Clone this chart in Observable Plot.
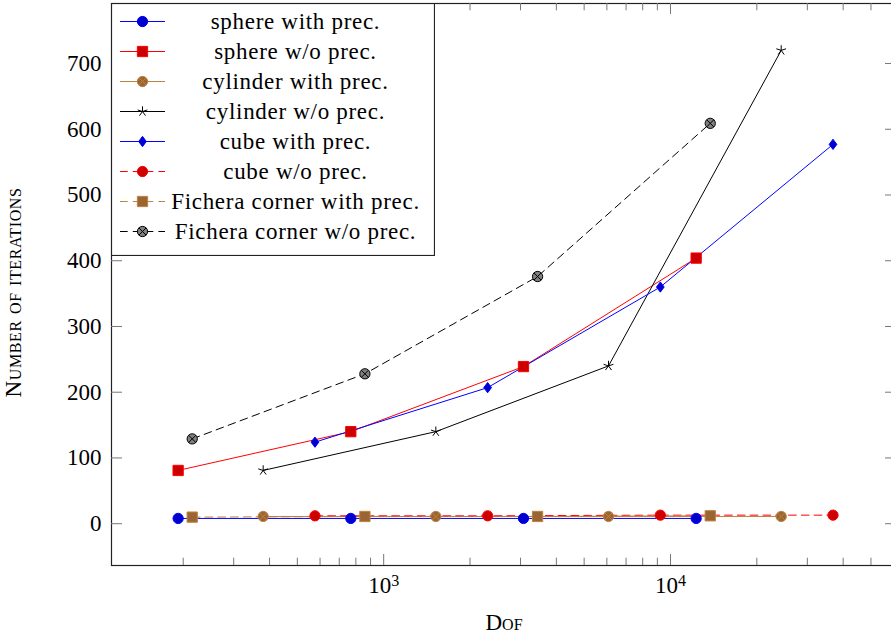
<!DOCTYPE html>
<html><head><meta charset="utf-8">
<script src="https://cdn.jsdelivr.net/npm/d3@7"></script>
<script src="https://cdn.jsdelivr.net/npm/@observablehq/plot@0.6"></script>
<style>
html,body{margin:0;padding:0;background:#fff;overflow:hidden}
#wrap{position:relative;width:891px;height:636px;overflow:hidden;background:#fff}
#chart svg{max-width:none !important}
#legend{position:absolute;left:111px;top:3px}
#legend svg{max-width:none !important;background:transparent !important}
#legend text{letter-spacing:0.7px}
.ylab text{letter-spacing:0.6px}
</style></head><body><div id="wrap"><div id="chart"></div><div id="legend"></div></div>
<script>
// ---- data ----
const seriesNames = ["sphere with prec.", "sphere w/o prec.", "cylinder with prec.", "cylinder w/o prec.",
  "cube with prec.", "cube w/o prec.", "Fichera corner with prec.", "Fichera corner w/o prec."];
const sphereDof = [192, 768, 3072, 12288];
const sphereWith = [8, 8, 8, 8];
const sphereWithout = [81, 140, 239, 404];
const cylinderDof = [380, 1520, 6080, 24320];
const cylinderWith = [11, 11, 11, 11];
const cylinderWithout = [81, 140, 240, 720];
const cubeDof = [576, 2304, 9216, 36864];
const cubeWith = [124, 207, 360, 577];
const cubeWithout = [12, 12, 13, 13];
const ficheraDof = [215, 860, 3440, 13760];
const ficheraWith = [10, 11, 11, 12];
const ficheraWithout = [129, 228, 376, 609];
const yTicks = [0, 100, 200, 300, 400, 500, 600, 700];
const xMajorTicks = [1000, 10000];
const xMinorTicks = [200, 300, 400, 500, 600, 700, 800, 900, 2000, 3000, 4000, 5000, 6000, 7000, 8000, 9000, 20000, 30000, 40000, 50000];

// ---- marker shapes (pgfplots style) ----
const rOf = size => Math.sqrt(size / Math.PI);
const markCircle = {draw(c, s) {const r = rOf(s); c.moveTo(r, 0); c.arc(0, 0, r, 0, 2 * Math.PI); c.closePath();}};
const markSquare = {draw(c, s) {const r = rOf(s); c.moveTo(-r, -r); c.lineTo(r, -r); c.lineTo(r, r); c.lineTo(-r, r); c.closePath();}};
const markDiamond = {draw(c, s) {const r = rOf(s); c.moveTo(0, -r); c.lineTo(0.75 * r, 0); c.lineTo(0, r); c.lineTo(-0.75 * r, 0); c.closePath();}};
const markStar = {draw(c, s) {const r = rOf(s); for (let k = 0; k < 5; k++) {const a = -Math.PI / 2 + k * 2 * Math.PI / 5; c.moveTo(0, 0); c.lineTo(r * Math.cos(a), r * Math.sin(a));}}};
const markOtimes = {draw(c, s) {const r = rOf(s); c.moveTo(r, 0); c.arc(0, 0, r, 0, 2 * Math.PI); c.closePath(); const q = r * Math.SQRT1_2; c.moveTo(-q, -q); c.lineTo(q, q); c.moveTo(-q, q); c.lineTo(q, -q);}};

const DASH = "7.7,5.1";
const series = [
  {name: seriesNames[0], dof: sphereDof, it: sphereWith, color: "#0000ff", fill: "#0000cc", symbol: markCircle, dash: null},
  {name: seriesNames[1], dof: sphereDof, it: sphereWithout, color: "#ff0000", fill: "#cc0000", symbol: markSquare, dash: null},
  {name: seriesNames[2], dof: cylinderDof, it: cylinderWith, color: "#bf8040", fill: "#996633", symbol: markOtimes, dash: null},
  {name: seriesNames[3], dof: cylinderDof, it: cylinderWithout, color: "#000000", fill: "none", symbol: markStar, dash: null},
  {name: seriesNames[4], dof: cubeDof, it: cubeWith, color: "#0000ff", fill: "#0000cc", symbol: markDiamond, dash: null},
  {name: seriesNames[5], dof: cubeDof, it: cubeWithout, color: "#ff0000", fill: "#cc0000", symbol: markCircle, dash: DASH},
  {name: seriesNames[6], dof: ficheraDof, it: ficheraWith, color: "#bf8040", fill: "#996633", symbol: markSquare, dash: DASH},
  {name: seriesNames[7], dof: ficheraDof, it: ficheraWithout, color: "#000000", fill: "#808080", symbol: markOtimes, dash: DASH}
];
const rowsOf = s => s.dof.map((d, j) => ({dof: d, it: s.it[j], name: s.name}));
const MR = 5.14;

const W = 896, H = 636, ML = 111, MT = 3, MB = 71, MRt = 0;
const plotW = W - ML - MRt, plotH = H - MT - MB;
const FONT = "'Liberation Serif', 'Times New Roman', serif";

const marks = [];
marks.push(Plot.frame({stroke: "#222", strokeWidth: 1.2}));
// ticks (inward, pgfplots style)
marks.push(Plot.tickY(yTicks, {y: d => d, insetRight: plotW - 11, stroke: "#777"}));
marks.push(Plot.tickY(yTicks, {y: d => d, insetLeft: plotW - 11, stroke: "#777"}));
marks.push(Plot.tickX(xMajorTicks, {x: d => d, insetTop: plotH - 11, stroke: "#777"}));
marks.push(Plot.tickX(xMajorTicks, {x: d => d, insetBottom: plotH - 11, stroke: "#777"}));
marks.push(Plot.tickX(xMinorTicks, {x: d => d, insetTop: plotH - 7.3, stroke: "#777"}));
marks.push(Plot.tickX(xMinorTicks, {x: d => d, insetBottom: plotH - 7.3, stroke: "#777"}));
marks.push(Plot.axisY(yTicks, {tickSize: 0, tickPadding: 10, tickFormat: d3.format("d"), label: null, fontSize: 23}));
marks.push(Plot.axisX(xMajorTicks, {tickSize: 0, tickPadding: 11, tickFormat: d => String(Math.round(Math.log10(d))), label: null, fontSize: 23}));
// lines first, then markers on top
for (const s of series) {
  marks.push(Plot.line(rowsOf(s), {x: "dof", y: "it", stroke: s.color, strokeWidth: 1, strokeDasharray: s.dash}));
}
for (const s of series) {
  marks.push(Plot.dot(rowsOf(s), {x: "dof", y: "it", symbol: s.symbol, r: MR, fill: s.fill, stroke: s.color, strokeWidth: 1}));
}
marks.push(Plot.text(["Dof"], {text: d => d, frameAnchor: "bottom", textAnchor: "middle", dy: 64, fontVariant: "small-caps", fontSize: 23}));
marks.push(Plot.text(["Number of iterations"], {text: d => d, frameAnchor: "left", textAnchor: "middle", dx: -98, dy: 8, rotate: -90, fontVariant: "small-caps", fontSize: 23, className: "ylab"}));

const chart = Plot.plot({
  width: W, height: H,
  marginLeft: ML, marginTop: MT, marginBottom: MB, marginRight: MRt,
  x: {type: "log", domain: [112.46, 61376]},
  y: {domain: [-63.6, 791.3]},
  style: {fontFamily: FONT, fontSize: "23px", color: "black", background: "white"},
  marks
});
document.getElementById("chart").appendChild(chart);

// superscript exponents for the x tick labels: 10^3, 10^4
d3.select(chart).selectAll('g[aria-label="x-axis tick label"] text').each(function () {
  const e = this.textContent;
  const t = d3.select(this);
  t.text("10");
  t.append("tspan").attr("dy", "-7").attr("font-size", "0.7em").text(e);
});

// ---- legend ----
const LW = 324, LH = 253;
const legendMarks = [Plot.frame({fill: "white", stroke: "#222", strokeWidth: 1.2, insetRight: 1, insetBottom: 1})];
for (const s of series) {
  legendMarks.push(Plot.ruleY([s.name], {y: d => d, insetLeft: 9, insetRight: LW - 54, stroke: s.color, strokeWidth: 1, strokeDasharray: s.dash}));
  legendMarks.push(Plot.dot([s.name], {y: d => d, frameAnchor: "left", dx: 31, symbol: s.symbol, r: MR, fill: s.fill, stroke: s.color, strokeWidth: 1}));
}
legendMarks.push(Plot.text(seriesNames, {y: d => d, text: d => d, frameAnchor: "left", dx: 184, textAnchor: "middle", fontSize: 23}));
const legend = Plot.plot({
  width: LW, height: LH, margin: 0,
  y: {type: "point", domain: seriesNames, range: [16, 230], padding: 0, axis: null},
  style: {fontFamily: FONT, fontSize: "23px", color: "black", background: "transparent"},
  marks: legendMarks
});
document.getElementById("legend").appendChild(legend);
</script></body></html>
